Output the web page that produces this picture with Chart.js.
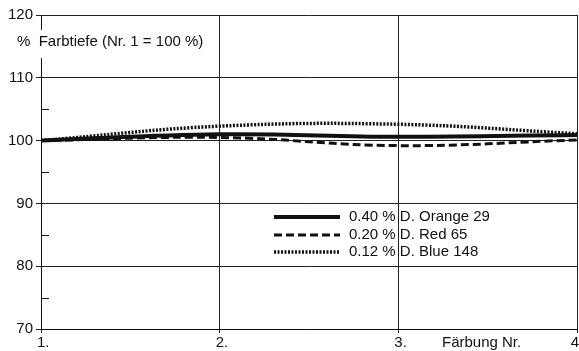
<!DOCTYPE html>
<html>
<head>
<meta charset="utf-8">
<script src="https://cdn.jsdelivr.net/npm/chart.js@4"></script>
<style>
  html, body { margin: 0; padding: 0; background: #fff; }
  #wrap { width: 579px; height: 351px; }
</style>
</head>
<body>
<div id="wrap"><canvas id="grafica" width="579" height="351"></canvas></div>
<script>
// datos
const farbungen = ["1.", "2.", "3.", "4"];
const orange29 = [100, 101.0, 100.6, 100.9];
const red65 = [100, 100.5, 99.2, 100.1];
const blue148 = [100, 102.3, 102.6, 101.1];
const serieNombres = ["0.40 % D. Orange 29", "0.20 % D. Red 65", "0.12 % D. Blue 148"];
const yMarcas = [70, 80, 90, 100, 110, 120];
const yMenores = [75, 85, 95, 105, 115];
const titulo = "%  Farbtiefe (Nr. 1 = 100 %)";
const xTitulo = "Färbung Nr.";

const fuente = '"Liberation Sans", Arial, sans-serif';
const negro = "#111";

// etiquetas, titulo, leyenda y marcas menores
const extras = {
  id: "extras",
  afterDraw(chart) {
    const ctx = chart.ctx;
    const area = chart.chartArea;
    const x = chart.scales.x;
    const y = chart.scales.y;
    ctx.save();

    // marcas menores hacia dentro
    ctx.strokeStyle = negro;
    ctx.lineWidth = 1;
    yMenores.forEach(v => {
      const py = Math.round(y.getPixelForValue(v)) + 0.5;
      ctx.beginPath();
      ctx.moveTo(area.left, py);
      ctx.lineTo(area.left + 8, py);
      ctx.stroke();
    });

    // etiquetas del eje x
    ctx.fillStyle = negro;
    ctx.font = "15px " + fuente;
    ctx.textBaseline = "alphabetic";
    farbungen.forEach((lab, i) => {
      const px = x.getPixelForValue(i);
      ctx.textAlign = i === farbungen.length - 1 ? "right" : "left";
      const dx = i === farbungen.length - 1 ? 2 : -4;
      ctx.fillText(lab, px + dx, 347);
    });
    ctx.textAlign = "left";
    ctx.fillText(xTitulo, 442, 347);

    // titulo del eje y con fondo blanco
    ctx.font = "15px " + fuente;
    const w = ctx.measureText(titulo).width;
    ctx.fillStyle = "#fff";
    ctx.fillRect(14, 30, w + 6, 28);
    ctx.fillStyle = negro;
    ctx.textBaseline = "middle";
    ctx.fillText(titulo, 17, 42);

    // leyenda
    const filas = [217, 235, 252];
    chart.data.datasets.forEach((ds, i) => {
      const py = filas[i];
      ctx.strokeStyle = ds.borderColor;
      ctx.lineWidth = ds.borderWidth;
      ctx.setLineDash(ds.borderDash || []);
      ctx.beginPath();
      ctx.moveTo(274, py);
      ctx.lineTo(340, py);
      ctx.stroke();
      ctx.setLineDash([]);
      ctx.fillStyle = negro;
      ctx.fillText(ds.label, 349, py);
    });

    ctx.restore();
  }
};

new Chart(document.getElementById("grafica"), {
  type: "line",
  data: {
    labels: farbungen,
    datasets: [
      {
        label: serieNombres[0],
        data: orange29,
        borderColor: negro,
        borderWidth: 4,
        borderDash: [],
        pointRadius: 0,
        tension: 0.4
      },
      {
        label: serieNombres[1],
        data: red65,
        borderColor: negro,
        borderWidth: 3,
        borderDash: [8, 4],
        pointRadius: 0,
        tension: 0.4
      },
      {
        label: serieNombres[2],
        data: blue148,
        borderColor: negro,
        borderWidth: 3.5,
        borderDash: [2, 1.5],
        pointRadius: 0,
        tension: 0.4
      }
    ]
  },
  options: {
    responsive: false,
    animation: false,
    layout: { padding: { top: 15, right: 2, left: 0, bottom: 0 } },
    plugins: {
      legend: { display: false },
      tooltip: { enabled: false }
    },
    scales: {
      x: {
        type: "category",
        offset: false,
        ticks: { display: false },
        grid: { color: "#222", lineWidth: 1, tickLength: 4 },
        border: { color: negro, width: 1 },
        afterFit: s => { s.height = 22; }
      },
      y: {
        min: 70,
        max: 120,
        afterBuildTicks: s => { s.ticks = yMarcas.map(v => ({ value: v })); },
        ticks: {
          color: negro,
          padding: 3,
          font: { family: fuente, size: 15 }
        },
        grid: { color: "#222", lineWidth: 1, tickLength: 5 },
        border: { color: negro, width: 1 },
        afterFit: s => { s.width = 41; }
      }
    }
  },
  plugins: [extras]
});
</script>
</body>
</html>
